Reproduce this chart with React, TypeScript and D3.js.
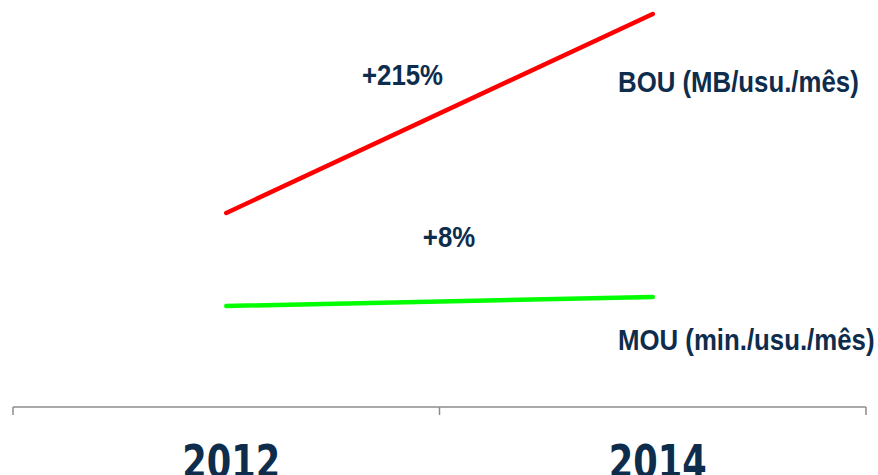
import React from "react";
import * as d3 from "d3";

const categories = ["2012", "2014"];
const bouValues = [48.5, 98.25];
const mouValues = [25.25, 27.5];
const bouLabel = "BOU (MB/usu./mês)";
const mouLabel = "MOU (min./usu./mês)";
const bouChange = "+215%";
const mouChange = "+8%";

const W = 878;
const H = 475;
const navy = "#0E2C4B";
const sans = "'Liberation Sans', Arial, sans-serif";

function NText({ x, y, sx, anchor, children }: { x: number; y: number; sx: number; anchor: string; children: React.ReactNode }) {
  return (
    <text transform={`translate(${x},${y}) scale(${sx},1)`} textAnchor={anchor}>
      {children}
    </text>
  );
}

export default function App() {
  const x = d3.scaleBand<string>().domain(categories).range([13, 866]).padding(0);
  const y = d3.scaleLinear().domain([0, 100]).range([407, 7]);
  const cx = (c: string) => (x(c) as number) + x.bandwidth() / 2;
  const line = d3
    .line<number>()
    .x((_, i) => cx(categories[i]))
    .y((d) => y(d));
  const axisY = y(0);
  const ticks = [...categories.map((c) => x(c) as number), 866];
  return (
    <svg width={W} height={H} style={{ position: "absolute", left: 0, top: 0 }}>
      <rect width={W} height={H} fill="#fff" />
      <path d={line(bouValues) || ""} fill="none" stroke="#FF0000" strokeWidth={4.5} strokeLinecap="round" />
      <path d={line(mouValues) || ""} fill="none" stroke="#00FF00" strokeWidth={4.5} strokeLinecap="round" />
      <g fontFamily={sans} fontWeight="bold" fill={navy} fontSize={30}>
        <NText x={402.5} y={85} sx={0.86} anchor="middle">{bouChange}</NText>
        <NText x={618} y={92} sx={0.86} anchor="start">{bouLabel}</NText>
        <NText x={449} y={247} sx={0.86} anchor="middle">{mouChange}</NText>
        <NText x={618} y={350} sx={0.86} anchor="start">{mouLabel}</NText>
      </g>
      <line x1={13} x2={866} y1={axisY} y2={axisY} stroke="#8C8C8C" strokeWidth={1.5} />
      {ticks.map((t, i) => (
        <line key={i} x1={t} x2={t} y1={axisY} y2={axisY + 8} stroke="#8C8C8C" strokeWidth={1.5} />
      ))}
      <g fontFamily="'DejaVu Sans Condensed', 'DejaVu Sans', sans-serif" fontWeight="bold" fill={navy} fontSize={46}>
        {categories.map((c) => (
          <NText key={c} x={cx(c) + 5} y={478} sx={0.85} anchor="middle">{c}</NText>
        ))}
      </g>
    </svg>
  );
}
